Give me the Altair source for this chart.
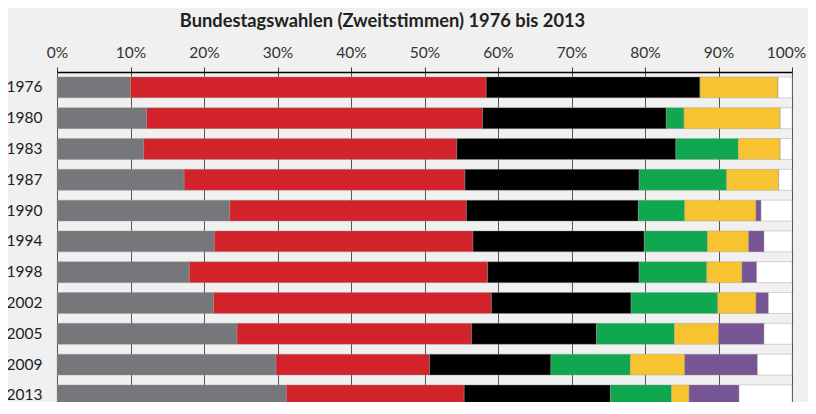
import altair as alt
import pandas as pd

years = ["1976", "1980", "1983", "1987", "1990", "1994", "1998", "2002", "2005", "2009", "2013"]
series = ["Nichtwähler", "SPD", "CDU/CSU", "Grüne", "FDP", "Linke", "Sonstige"]
colors = ["#75777b", "#d2232a", "#000000", "#0fa84f", "#f7c331", "#775594", "#ffffff"]

nichtwaehler = [10.0, 12.2, 11.8, 17.3, 23.5, 21.4, 18.0, 21.3, 24.5, 29.8, 31.2]
spd = [48.4, 45.7, 42.6, 38.2, 32.2, 35.2, 40.6, 37.8, 31.9, 20.9, 24.2]
cdu = [29.1, 25.0, 29.8, 23.7, 23.4, 23.3, 20.6, 19.0, 17.0, 16.5, 19.9]
gruene = [0.0, 2.4, 8.5, 11.9, 6.3, 8.6, 9.2, 11.8, 10.6, 10.8, 8.3]
fdp = [10.6, 13.1, 5.7, 7.1, 9.7, 5.6, 4.8, 5.2, 6.0, 7.4, 2.4]
linke = [0.0, 0.0, 0.0, 0.0, 0.7, 2.1, 2.0, 1.7, 6.2, 9.9, 6.8]
sonstige = [1.9, 1.6, 1.6, 1.8, 4.2, 3.8, 4.8, 3.2, 3.8, 4.7, 7.2]

values = [nichtwaehler, spd, cdu, gruene, fdp, linke, sonstige]
rows = []
for si, (name, vals) in enumerate(zip(series, values)):
    for y, v in zip(years, vals):
        rows.append({"Jahr": y, "Partei": name, "Anteil": v, "ord": si})
df = pd.DataFrame(rows)

FONT = "Lato"

chart = alt.Chart(df).mark_bar(stroke="#9a9a9a", strokeWidth=0.4).encode(
    x=alt.X("Anteil:Q", stack="zero",
            scale=alt.Scale(domain=[0, 100], nice=False),
            axis=alt.Axis(orient="top", values=list(range(0, 101, 10)),
                          labelExpr="datum.value + '%'", title=None,
                          labelFlush=False,
                          labelOffset={"condition": {"test": "datum.value == 100", "value": -6}, "value": 0},
                          grid=True, gridColor="#555555", gridWidth=1,
                          tickSize=5, tickColor="#333333",
                          domainColor="#000000", domainWidth=1.5,
                          labelFont=FONT, labelFontSize=15.5, labelColor="#333333",
                          labelPadding=7)),
    y=alt.Y("Jahr:N", sort=years,
            scale=alt.Scale(paddingInner=0.32, paddingOuter=0.16, range=[0, 338.8]),
            axis=alt.Axis(title=None, ticks=False, domain=False, grid=False,
                          labelFont=FONT, labelFontSize=15.5, labelColor="#222222",
                          labelPadding=15)),
    color=alt.Color("Partei:N", scale=alt.Scale(domain=series, range=colors), legend=None),
    order=alt.Order("ord:Q"),
).properties(
    width=735,
    height=330,
    title=alt.TitleParams("Bundestagswahlen (Zweitstimmen) 1976 bis 2013",
                          font=FONT, fontSize=18.3, fontWeight="bold", color="#222222",
                          anchor="middle", dx=-42, dy=-10),
    autosize=alt.AutoSizeParams(type="none"),
    padding={"left": 49, "top": 64, "right": 16, "bottom": 0},
).configure(
    background="#eff0ef"
).configure_view(
    stroke=None
)

chart.save("out.html", embed_options={"renderer": "svg", "actions": False})
